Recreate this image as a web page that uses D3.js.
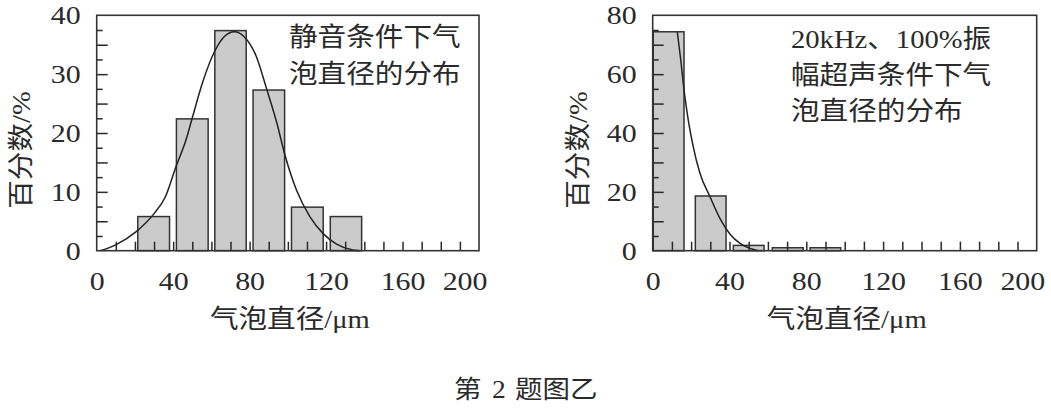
<!DOCTYPE html>
<html>
<head>
<meta charset="utf-8">
<script src="https://cdn.jsdelivr.net/npm/d3@7"></script>
<style>
  body { margin: 0; background: #fff; }
  svg { display: block; }
</style>
</head>
<body>
<svg id="chart" width="1051" height="408"></svg>
<script>
// data (x in µm, y in %)
const leftBarLo = [21.5, 41.7, 61.8, 81.8, 101.9, 122.2];
const leftBarHi = [38.1, 58.3, 78.2, 98.3, 118.5, 138.6];
const leftPct = [5.8, 22.4, 37.4, 27.3, 7.4, 5.8];
const leftFitX = [2, 10, 20.5, 30, 36, 41.5, 46.7, 50.2, 55.5, 61.6, 66.8, 72, 77, 83.5, 88.8, 94, 98.7, 104.5, 111.5, 118.5, 125.5, 134, 137.6];
const leftFitY = [0, 1, 3.2, 6.3, 9.2, 14.3, 18.8, 22.8, 28.7, 33.8, 36.4, 37.2, 36.4, 33, 27.6, 22, 16, 10.3, 5.8, 2.9, 1.1, 0.1, 0];

const rightBarLo = [0.3, 22.2, 42, 62.3, 82];
const rightBarHi = [16.3, 38.2, 58, 78.4, 97.9];
const rightPct = [74.4, 18.6, 1.8, 1.0, 1.0];
const rightFitX = [12.8, 14.6, 16.3, 18.5, 21.1, 24.6, 29.8, 35, 40.3, 45.5, 50.7, 55];
const rightFitY = [74.4, 64.9, 54.7, 44.5, 35.4, 26.3, 18.4, 11, 5.6, 2.5, 0.8, 0];

const xTicks = [0, 40, 80, 120, 160, 200];
const leftYTicks = [0, 10, 20, 30, 40];
const rightYTicks = [0, 20, 40, 60, 80];

const leftNote = ["静音条件下气", "泡直径的分布"];
const rightNote = [["20kHz", "serif"], ["、", "cjk"], ["100%", "serif"], ["振", "cjk"]];
const rightNote2 = ["幅超声条件下气", "泡直径的分布"];
const caption = [["第", "cjk", 454], ["2", "serif", 492], ["题图乙", "cjk", 515]];

const serif = "'Liberation Serif', 'DejaVu Serif', serif";
const cjk = "'Noto Sans CJK SC', sans-serif";
const ink = "#2a2a2a";
const sx = 1.1; // reference type is a bit wide
const nx = 1.15; // digits a little wider still

const svg = d3.select("#chart");
svg.append("rect").attr("width", 1051).attr("height", 408).attr("fill", "#fff");

function panel(o) {
  const g = svg.append("g");
  const x = d3.scaleLinear().domain([0, 200]).range([o.left, o.right]);
  const y = d3.scaleLinear().domain([0, o.ymax]).range([250.7, 15.3]);

  // bars
  g.selectAll("rect.bar")
    .data(o.pct)
    .join("rect")
    .attr("class", "bar")
    .attr("x", (d, i) => x(o.lo[i]))
    .attr("width", (d, i) => x(o.hi[i]) - x(o.lo[i]))
    .attr("y", d => y(d))
    .attr("height", d => y(0) - y(d))
    .attr("fill", "#cbcbcb")
    .attr("stroke", "#333")
    .attr("stroke-width", 1.5);

  // inside ticks
  const tickStyle = sel => {
    sel.select(".domain").remove();
    sel.selectAll("line").attr("stroke", ink).attr("stroke-width", 1.5);
  };
  g.append("g").attr("transform", `translate(0,${y(0)})`)
    .call(d3.axisBottom(x).tickValues(d3.range(10, 200, 10)).tickSize(-9).tickFormat(""))
    .call(tickStyle);
  g.append("g").attr("transform", `translate(${x(0)},0)`)
    .call(d3.axisLeft(y).tickValues(d3.range(o.minor, o.ymax, o.minor * 2)).tickSize(-6).tickFormat(""))
    .call(tickStyle);
  g.append("g").attr("transform", `translate(${x(0)},0)`)
    .call(d3.axisLeft(y).tickValues(d3.range(o.minor * 2, o.ymax, o.minor * 2)).tickSize(-11).tickFormat(""))
    .call(tickStyle);

  // tick labels
  const xa = g.append("g").attr("transform", `translate(0,${y(0)})`)
    .call(d3.axisBottom(x).tickValues(xTicks).tickSize(0).tickPadding(21));
  const ya = g.append("g").attr("transform", `translate(${x(0)},0)`)
    .call(d3.axisLeft(y).tickValues(o.yticks).tickSize(0).tickPadding(14));
  [xa, ya].forEach(a => {
    a.select(".domain").remove();
    a.selectAll("text")
      .attr("transform", `scale(${nx},1)`)
      .style("font-family", serif)
      .style("font-size", "26px")
      .attr("fill", ink);
  });
  // last x label is pulled in to sit inside the page, as in the reference
  xa.selectAll(".tick text").filter(d => d === 200)
    .attr("text-anchor", "end").attr("x", 8 / nx);

  // fitted curve
  const pts = o.fitX.map((v, i) => [v, o.fitY[i]]);
  g.append("path")
    .datum(pts)
    .attr("d", d3.line().x(d => x(d[0])).y(d => y(d[1])).curve(d3.curveMonotoneX))
    .attr("fill", "none")
    .attr("stroke", "#222")
    .attr("stroke-width", 1.5);

  // frame
  g.append("rect")
    .attr("x", x(0)).attr("y", y(o.ymax))
    .attr("width", x(200) - x(0)).attr("height", y(0) - y(o.ymax))
    .attr("fill", "none").attr("stroke", "#333").attr("stroke-width", 1.6);

  // x title
  const xt = g.append("g").attr("transform", `translate(${(x(0) + x(200)) / 2 + 2},328) scale(${sx},1)`)
    .append("text").attr("text-anchor", "middle").attr("fill", ink).style("font-size", "26px");
  xt.append("tspan").style("font-family", cjk).text("气泡直径");
  xt.append("tspan").style("font-family", serif).text("/μm");

  // y title
  const yt = g.append("g").attr("transform", `translate(${o.ytitleX},150) rotate(-90) scale(${sx},1)`)
    .append("text").attr("text-anchor", "middle").attr("fill", ink).style("font-size", "26px");
  yt.append("tspan").style("font-family", cjk).text("百分数");
  yt.append("tspan").style("font-family", serif).text("/%");

  return g;
}

const gl = panel({ left: 96.7, right: 479, ymax: 40, minor: 2.5, lo: leftBarLo, hi: leftBarHi, pct: leftPct,
  fitX: leftFitX, fitY: leftFitY, yticks: leftYTicks, ytitleX: 30 });
const gr = panel({ left: 652.7, right: 1036.7, ymax: 80, minor: 5, lo: rightBarLo, hi: rightBarHi, pct: rightPct,
  fitX: rightFitX, fitY: rightFitY, yticks: rightYTicks, ytitleX: 587 });

// notes
leftNote.forEach((t, i) => {
  gl.append("g").attr("transform", `translate(289,${46 + i * 37}) scale(${sx},1)`)
    .append("text").style("font-family", cjk).style("font-size", "26px").attr("fill", ink).text(t);
});
const n1 = gr.append("g").attr("transform", `translate(791,48) scale(${sx},1)`)
  .append("text").style("font-size", "26px").attr("fill", ink);
rightNote.forEach(([t, f]) => {
  n1.append("tspan").style("font-family", f === "serif" ? serif : cjk).text(t);
});
rightNote2.forEach((t, i) => {
  gr.append("g").attr("transform", `translate(791,${84 + i * 36}) scale(${sx},1)`)
    .append("text").style("font-family", cjk).style("font-size", "26px").attr("fill", ink).text(t);
});

// caption
caption.forEach(([t, f, px]) => {
  svg.append("g").attr("transform", `translate(${px},398) scale(${sx},1)`)
    .append("text").style("font-family", f === "serif" ? serif : cjk)
    .style("font-size", "25px").attr("fill", ink).text(t);
});
</script>
</body>
</html>
